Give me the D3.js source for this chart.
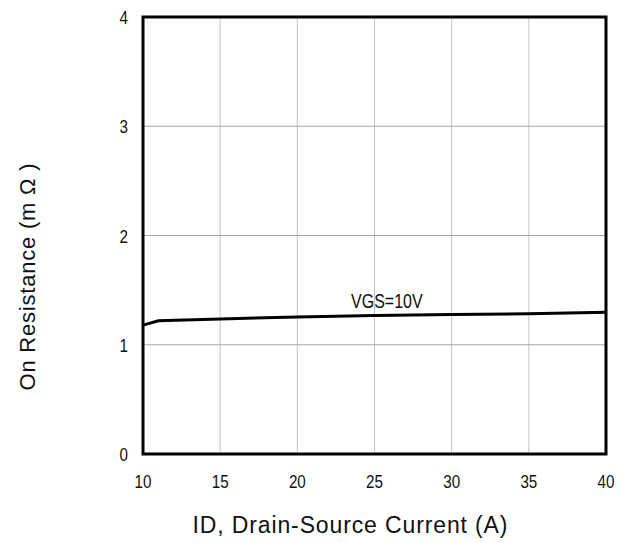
<!DOCTYPE html>
<html><head><meta charset="utf-8">
<script src="https://cdn.jsdelivr.net/npm/d3@7"></script>
<style>body{margin:0;background:#fff}</style>
</head><body>
<svg id="c" width="630" height="543"></svg>
<script>
const xTicks = [10, 15, 20, 25, 30, 35, 40];
const yTicks = [0, 1, 2, 3, 4];
const currentA = [10, 11, 15, 20, 25, 30, 35, 40];
const rdsOn = [1.18, 1.22, 1.235, 1.255, 1.268, 1.276, 1.283, 1.297];
const seriesLabel = "VGS=10V";
const xTitle = "ID, Drain-Source Current (A)";
const yTitle = "On Resistance (m \u03A9 )";

const svg = d3.select("#c");
const L = 143, R = 606, T = 17, B = 454;
const x = d3.scaleLinear().domain([10, 40]).range([L, R]);
const y = d3.scaleLinear().domain([0, 4]).range([B, T]);
const font = "Arial, 'Liberation Sans', sans-serif";
const narrow = 0.8;

const g = svg.append("g");
g.selectAll("line.vg").data(xTicks.slice(1, -1)).join("line")
  .attr("x1", d => x(d)).attr("x2", d => x(d)).attr("y1", T).attr("y2", B)
  .attr("stroke", "#c4c4c4").attr("stroke-width", 1);
g.selectAll("line.hg").data(yTicks.slice(1, -1)).join("line")
  .attr("y1", d => y(d)).attr("y2", d => y(d)).attr("x1", L).attr("x2", R)
  .attr("stroke", "#a6a6a6").attr("stroke-width", 1);

g.append("rect").attr("x", L).attr("y", T).attr("width", R - L).attr("height", B - T)
  .attr("fill", "none").attr("stroke", "#000").attr("stroke-width", 3);

const line = d3.line().x((d, i) => x(currentA[i])).y(d => y(d));
g.append("path").datum(rdsOn).attr("d", line).attr("fill", "none")
  .attr("stroke", "#000").attr("stroke-width", 3);

g.selectAll("text.xt").data(xTicks).join("text")
  .attr("transform", d => `translate(${x(d)},488) scale(${narrow},1)`)
  .attr("text-anchor", "middle").attr("fill", "#111")
  .attr("font-family", font).attr("font-size", 19).text(d => d);
g.selectAll("text.yt").data(yTicks).join("text")
  .attr("transform", d => `translate(128,${y(d) + 7}) scale(${narrow},1)`)
  .attr("text-anchor", "end").attr("fill", "#111")
  .attr("font-family", font).attr("font-size", 19).text(d => d);

g.append("text").attr("transform", `translate(${x(25.8)},308) scale(${narrow},1)`)
  .attr("text-anchor", "middle").attr("fill", "#111")
  .attr("font-family", font).attr("font-size", 20).text(seriesLabel);

g.append("text").attr("x", 350).attr("y", 533).attr("text-anchor", "middle")
  .attr("textLength", 315).attr("lengthAdjust", "spacing").attr("fill", "#111")
  .attr("font-family", font).attr("font-size", 23).text(xTitle);
g.append("text").attr("transform", "translate(35,277) rotate(-90)").attr("text-anchor", "middle")
  .attr("textLength", 227).attr("lengthAdjust", "spacing").attr("fill", "#111")
  .attr("font-family", font).attr("font-size", 22).text(yTitle);
</script>
</body></html>
